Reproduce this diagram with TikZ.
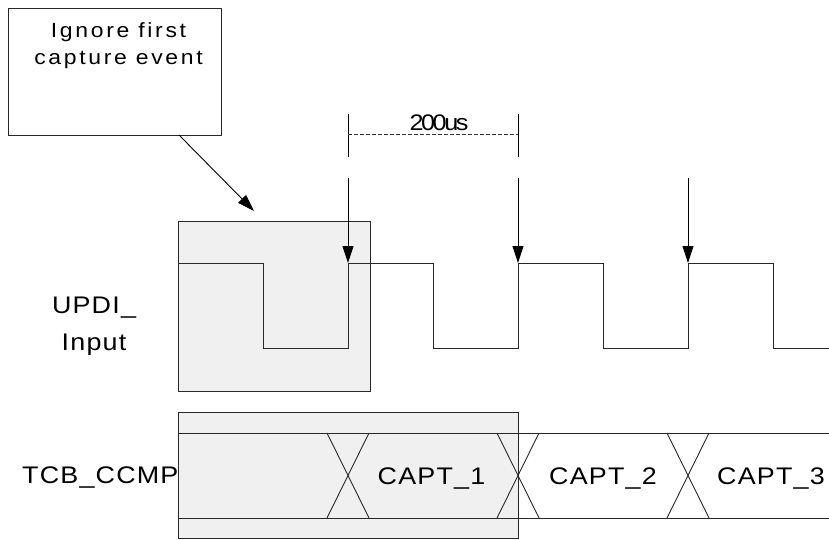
\documentclass[tikz,border=0pt]{standalone}
\usepackage{fontspec}
\setmainfont{Liberation Sans}
\newfontfamily\lblfont[FakeStretch=1.12, LetterSpace=5]{Liberation Sans}
\newfontfamily\notefont[FakeStretch=1.12, LetterSpace=13]{Liberation Sans}
\newfontfamily\dimfont[FakeStretch=1.12, LetterSpace=-11]{Liberation Sans}
\usetikzlibrary{arrows.meta}
\definecolor{shade}{RGB}{240,240,240}
\definecolor{ln}{RGB}{40,40,40}
\tikzset{
  box/.style={draw=ln, line width=0.9pt, inner sep=0pt, anchor=north west},
  shadebox/.style={box, fill=shade},
  wave/.style={draw=ln, line width=0.9pt},
  arr/.style={draw=black, line width=0.9pt, -{Triangle[length=17pt,width=11pt]}},
  lbl/.style={inner sep=0pt, font=\lblfont\fontsize{24}{37}\selectfont, text=black},
  dimtxt/.style={inner sep=0pt, font=\dimfont\fontsize{22.5}{30}\selectfont, text=black},
}
\begin{document}
\begin{tikzpicture}[x=1pt,y=-1pt]
\useasboundingbox (0,0) rectangle (829,540);
% note box
\node[box, minimum width=213pt, minimum height=127pt] (note) at (8,8) {};
\node[inner sep=0pt, anchor=base, align=center, font=\notefont\fontsize{20.5}{26.8}\selectfont, text=black] (notetext) at (118.5,64.5) {Ignore first\\capture event};
\coordinate (nstart) at (179,135);
\coordinate (ntip) at (254,211);
\draw[arr] (nstart) -- (ntip);
% shaded windows
\node[shadebox, minimum width=192pt, minimum height=170pt] (win1) at (178,221) {};
\node[shadebox, minimum width=340pt, minimum height=126pt] (win2) at (178,412) {};
% waveform
\draw[wave] (178,263) -- (263,263) -- (263,348) -- (348,348) -- (348,263) -- (433,263) -- (433,348) -- (518,348) -- (518,263) -- (603,263) -- (603,348) -- (688,348) -- (688,263) -- (773,263) -- (773,348) -- (829,348);
% capture arrows
\foreach \x/\n in {348/a,518/b,688/c}{
  \coordinate (t\n) at (\x,178);
  \coordinate (e\n) at (\x,263);
  \draw[arr] (t\n) -- (e\n);
}
% dimension
\coordinate (d1t) at (348,114); \coordinate (d1b) at (348,157);
\coordinate (d2t) at (518,114); \coordinate (d2b) at (518,157);
\draw[draw=black, line width=0.9pt] (d1t) -- (d1b);
\draw[draw=black, line width=0.9pt] (d2t) -- (d2b);
\draw[draw=black!80, line width=0.8pt, dash pattern=on 4pt off 2pt] (348,134) -- (518,134);
\node[dimtxt, anchor=base] (dim) at (439,131) {200us};
% bus
\draw[wave] (178,433) -- (829,433);
\draw[wave] (178,518) -- (829,518);
\foreach \c in {348,518,688}{
  \draw[draw=ln, line width=0.9pt] (\c-21,433) -- (\c+21,518);
  \draw[draw=ln, line width=0.9pt] (\c+21,433) -- (\c-21,518);
}
% labels
\node[lbl, anchor=base, align=center] (updi) at (94,350) {UPDI\_\\Input};
\node[lbl, anchor=base west] (tcb) at (22,483) {TCB\_CCMP};
\node[lbl, anchor=base] (c1) at (431.5,484) {CAPT\_1};
\node[lbl, anchor=base] (c2) at (603,484) {CAPT\_2};
\node[lbl, anchor=base west] (c3) at (717,484) {CAPT\_3};
\end{tikzpicture}
\end{document}
